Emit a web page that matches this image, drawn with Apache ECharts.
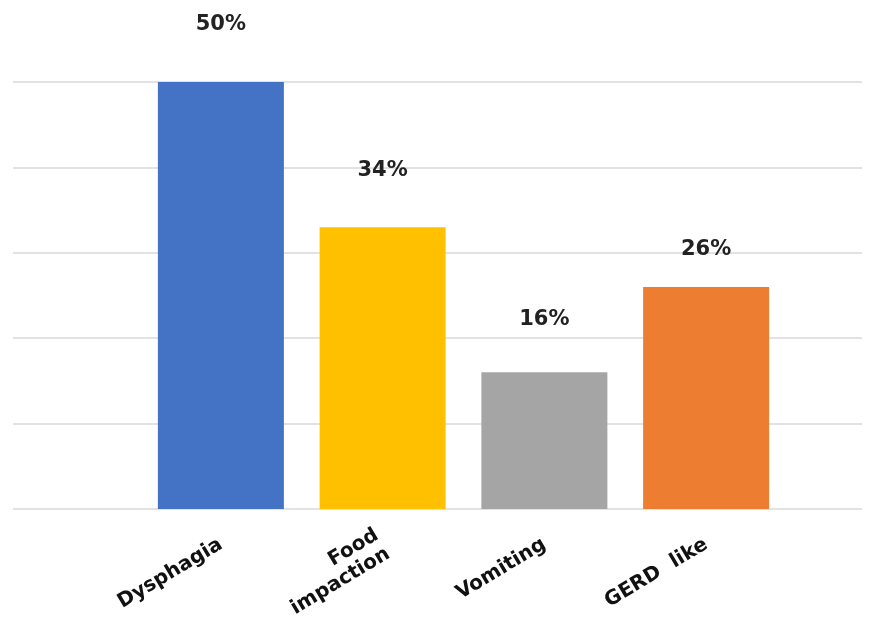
<!DOCTYPE html>
<html><head><meta charset="utf-8">
<script src="https://cdn.jsdelivr.net/npm/echarts@6/dist/echarts.min.js"></script>
<style>html,body{margin:0;padding:0;background:#fff}#c{width:879px;height:622px}</style>
</head><body><div id="c"></div>
<script>
const categories = ['Dysphagia', 'Food\nimpaction', 'Vomiting', 'GERD  like'];
const values = [50, 33, 16, 26];
const valueLabels = ['50%', '34%', '16%', '26%'];
const barColors = ['#4472C4', '#FFC000', '#A5A5A5', '#ED7D31'];
const labelGaps = [47, 46, 42, 27];

const chart = echarts.init(document.getElementById('c'));
const gridTop = 82, gridBottom = 622 - 509;
chart.setOption({
  animation: false,
  grid: [
    {left: 140, right: 92, top: gridTop, bottom: gridBottom},
    {left: 13, right: 17, top: gridTop, bottom: gridBottom}
  ],
  xAxis: [
    {type: 'category', gridIndex: 0, data: categories,
     axisLine: {show: false}, axisTick: {show: false},
     axisLabel: {rotate: 31, interval: 0, margin: 34, fontSize: 20, fontWeight: 'bold',
                 color: '#111', fontFamily: 'DejaVu Sans', lineHeight: 22}},
    {type: 'value', gridIndex: 1, min: 0, max: 1, show: false}
  ],
  yAxis: [
    {type: 'value', gridIndex: 0, min: 0, max: 50, interval: 10, show: false},
    {type: 'value', gridIndex: 1, min: 0, max: 50, interval: 10,
     axisLabel: {show: false}, axisTick: {show: false},
     axisLine: {show: false},
     splitLine: {show: true, lineStyle: {color: '#D9D9D9', width: 1.5}}}
  ],
  series: [{
    type: 'bar', xAxisIndex: 0, yAxisIndex: 0, barWidth: 126,
    data: values.map((v, i) => ({
      value: v,
      itemStyle: {color: barColors[i]},
      label: {show: true, position: 'top', distance: labelGaps[i],
              formatter: valueLabels[i], fontSize: 21, fontWeight: 'bold',
              color: '#222', fontFamily: 'DejaVu Sans'}
    }))
  }]
});
</script></body></html>
